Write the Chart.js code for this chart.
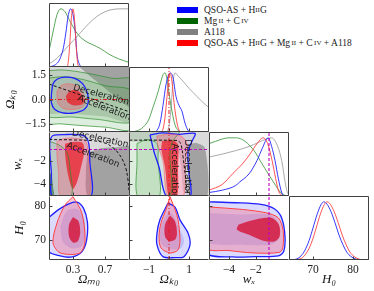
<!DOCTYPE html>
<html lang="en">
<head>
  <meta charset="UTF-8" />
  <title>Triangle plot</title>
  <script src="https://cdn.jsdelivr.net/npm/chart.js"></script>
  <style>
    body { margin: 0; background: #fff; }
    #wrap { position: relative; width: 374px; height: 291px; overflow: hidden; }
    #wrap canvas { position: absolute; }
    #legend { position: absolute; left: 177px; top: 4px; font-family: 'Liberation Serif', serif; font-size: 9.5px; color: #222; }
    #legend .row { height: 11px; display: flex; align-items: center; white-space: nowrap; }
    #legend .sw { width: 21px; height: 6px; margin-right: 6px; flex: none; }
    #legend .sc { font-size: 7px; }
  </style>
</head>
<body>
<div id="wrap">
  <div id="legend">
    <div class="row"><span class="sw" style="background:#0000ff"></span>QSO-AS + H<span class="sc">II</span>G</div>
    <div class="row"><span class="sw" style="background:#006400"></span>Mg<span class="sc">&thinsp;II</span>&nbsp;+ C<span class="sc">&thinsp;IV</span></div>
    <div class="row"><span class="sw" style="background:#808080"></span>A118</div>
    <div class="row"><span class="sw" style="background:#ff0000"></span>QSO-AS + H<span class="sc">II</span>G + Mg<span class="sc">&thinsp;II</span>&nbsp;+ C<span class="sc">&thinsp;IV</span>&nbsp;+ A118</div>
  </div>
</div>
<script>
// tick values and labels
const omTicks = [0.3, 0.7], omLabels = ['0.3', '0.7'];
const okTicks = [-1, 0, 1], okLabels = ['−1', '', '1'];
const okYTicks = [-1.5, 0, 1.5], okYLabels = ['−1.5', '0.0', '1.5'];
const wTicks = [-4, -2], wLabels = ['−4', '−2'];
const h0Ticks = [70, 80], h0Labels = ['70', '80'];

// 1D marginals [value, relative density]
const omGreen = [[0,0.27],[0.05,0.6],[0.1,0.9],[0.15,1.0],[0.2,0.95],[0.25,0.82],[0.35,0.58],[0.45,0.45],[0.55,0.38],[0.64,0.32],[0.75,0.22],[0.87,0.14],[1.0,0.08]];
const omGray = [[0,0.05],[0.1,0.15],[0.2,0.3],[0.3,0.45],[0.4,0.6],[0.5,0.75],[0.6,0.87],[0.7,0.95],[0.8,0.99],[0.9,1.0],[1.0,1.0]];
const omBlue = [[0,0],[0.08,0.04],[0.13,0.12],[0.18,0.33],[0.21,0.58],[0.24,0.88],[0.27,1.0],[0.3,0.9],[0.33,0.58],[0.35,0.22],[0.38,0.05],[0.42,0],[1,0]];
const omRed = [[0,0],[0.22,0],[0.24,0.08],[0.26,0.4],[0.28,0.85],[0.3,1.0],[0.32,0.8],[0.34,0.35],[0.36,0.05],[0.38,0],[1,0]];

const okGreen = [[-2,0],[-1.6,0.02],[-1.3,0.08],[-1.0,0.22],[-0.8,0.42],[-0.6,0.62],[-0.45,0.8],[-0.3,0.97],[-0.2,1.0],[-0.1,0.9],[0.0,0.65],[0.15,0.35],[0.3,0.12],[0.45,0.03],[0.6,0],[2,0]];
const okGray = [[-2,0],[-0.2,0],[0.0,0.1],[0.1,0.4],[0.2,0.85],[0.3,1.0],[0.45,0.95],[0.7,0.86],[1.0,0.74],[1.4,0.6],[1.7,0.5],[2,0.41]];
const okBlue = [[-2,0],[-0.8,0],[-0.6,0.03],[-0.45,0.15],[-0.3,0.45],[-0.15,0.8],[0.05,1.0],[0.2,0.92],[0.35,0.6],[0.5,0.45],[0.65,0.35],[0.8,0.15],[0.95,0.03],[1.1,0],[2,0]];
const okRed = [[-2,0],[-0.4,0],[-0.3,0.05],[-0.2,0.25],[-0.1,0.6],[0.0,0.95],[0.05,1.0],[0.15,0.85],[0.25,0.5],[0.35,0.25],[0.45,0.08],[0.55,0.01],[0.7,0],[2,0]];

const wGreen = [[-5.5,0.9],[-5,0.94],[-4.5,0.98],[-4,1.0],[-3.5,1.0],[-3,0.97],[-2.5,0.88],[-2,0.74],[-1.67,0.61],[-1.3,0.47],[-0.92,0.33],[-0.5,0.18],[-0.17,0.07],[0.1,0.02],[0.5,0]];
const wGray = [[-5.5,0.67],[-4.5,0.72],[-3.5,0.78],[-2.5,0.85],[-1.8,0.92],[-1.2,0.98],[-0.8,1.0],[-0.5,0.93],[-0.2,0.75],[0.0,0.55],[0.2,0.25],[0.35,0.08],[0.5,0.01]];
const wBlue = [[-5.5,0.06],[-4.5,0.1],[-3.5,0.18],[-3.2,0.24],[-2.5,0.38],[-1.9,0.61],[-1.5,0.82],[-1.07,1.0],[-0.8,0.85],[-0.55,0.61],[-0.3,0.3],[-0.03,0.05],[0.2,0],[0.5,0]];
const wRed = [[-5.5,0.1],[-4.5,0.2],[-3.7,0.39],[-3,0.55],[-2.4,0.73],[-1.9,0.9],[-1.45,1.0],[-1.1,0.9],[-0.77,0.61],[-0.5,0.3],[-0.3,0.1],[-0.1,0.02],[0.2,0],[0.5,0]];

const h0Blue = [[64,0],[66,0.02],[67,0.07],[68,0.17],[69,0.33],[70,0.55],[71,0.78],[72,0.95],[72.7,1.0],[73.5,0.96],[74.5,0.83],[75.5,0.64],[76.5,0.43],[77.5,0.26],[78.5,0.13],[79.5,0.06],[80.5,0.02],[82,0],[84,0]];
const h0Red = [[64,0],[66.8,0.02],[67.8,0.07],[68.8,0.17],[69.8,0.33],[70.8,0.55],[71.8,0.78],[72.8,0.95],[73.5,1.0],[74.3,0.96],[75.3,0.83],[76.3,0.64],[77.3,0.43],[78.3,0.26],[79.3,0.13],[80.3,0.06],[81.3,0.02],[82.8,0],[84,0]];

// 2D contours (1 = 68%, 2 = 95%)
// Omega_m0 vs Omega_k0
const A_gray2 = [[-0.05,2.1],[1.05,2.1],[1.05,-1.35],[0.7,-1.05],[0.4,-0.92],[0.15,-0.85],[-0.05,-0.8]];
const A_gray1 = [[0.36,2.1],[1.05,2.1],[1.05,-0.5],[0.8,0.3],[0.6,1.1],[0.45,1.7]];
const A_green2 = [[-0.05,1.75],[0.15,1.82],[0.35,1.72],[0.6,1.5],[0.8,1.3],[1.05,1.2],[1.05,-1.8],[0.7,-1.7],[0.4,-1.6],[0.15,-1.5],[-0.05,-1.4]];
const A_green1 = [[-0.05,1.3],[0.2,1.4],[0.45,1.2],[0.7,0.85],[1.05,0.5],[1.05,-1.35],[0.6,-1.22],[0.3,-1.08],[-0.05,-0.95]];
const A_blue2 = [[0.03,0.3],[0.05,0.95],[0.1,1.25],[0.2,1.38],[0.32,1.3],[0.42,0.98],[0.48,0.4],[0.49,-0.2],[0.44,-0.62],[0.32,-0.82],[0.17,-0.82],[0.07,-0.6],[0.03,-0.2]];
const A_red2 = [[0.1,0.5],[0.15,0.85],[0.25,0.97],[0.35,0.82],[0.42,0.45],[0.45,-0.05],[0.42,-0.45],[0.32,-0.6],[0.18,-0.55],[0.11,-0.2]];
const A_red1 = [[0.21,0.2],[0.26,0.52],[0.34,0.58],[0.41,0.3],[0.44,-0.1],[0.4,-0.33],[0.3,-0.35],[0.23,-0.15]];
const A_qzero = [[0,0.95],[1,-0.75]];

// Omega_m0 vs w_X
const B_gray2 = [[-0.05,0.6],[1.05,0.6],[1.05,-5.1],[-0.05,-5.1]];
const B_gray1 = [[0.48,-1.3],[0.65,-0.9],[0.85,-0.8],[1.05,-0.8],[1.05,-5.1],[0.5,-5.1],[0.46,-3.0]];
const B_green2 = [[-0.05,-0.2],[0.12,-0.6],[0.22,-1.2],[0.26,-2.5],[0.27,-5.1],[-0.05,-5.1]];
const B_green1 = [[-0.05,-2.5],[0.03,-3.2],[0.05,-4.2],[0.06,-5.1],[-0.05,-5.1]];
const B_blue2 = [[0.01,-0.2],[0.05,0.2],[0.2,0.28],[0.4,0.25],[0.47,0.0],[0.5,-0.6],[0.51,-2],[0.515,-5.1],[0.05,-5.1],[0.03,-3],[0.01,-1.2]];
const B_red2 = [[0.1,-0.3],[0.2,-0.05],[0.35,-0.05],[0.46,-0.3],[0.49,-1.5],[0.49,-5.1],[0.15,-5.1],[0.12,-3],[0.1,-1.5]];
const B_red1 = [[0.2,-0.5],[0.3,-0.35],[0.42,-0.45],[0.44,-1.2],[0.4,-2.5],[0.35,-3.8],[0.3,-4.4],[0.26,-3.8],[0.22,-2.5],[0.2,-1.2]];
const B_qzero = [[0,-0.15],[0.3,-0.18],[0.55,-0.25],[0.7,-0.45],[0.8,-0.85],[0.87,-1.35],[0.92,-1.9],[0.96,-2.6],[0.985,-3.5],[1.0,-4.5]];

// Omega_k0 vs w_X
const C_gray2 = [[-2.1,0.6],[2.1,0.6],[2.1,-5.1],[0.85,-5.1],[0.6,-2.5],[0.4,-0.9],[0.0,-0.45],[-1.0,-0.3],[-2.1,-0.25]];
const C_gray1 = [[0.95,-0.6],[1.35,-0.45],[1.8,-0.9],[1.9,-5.1],[1.05,-5.1],[1.0,-2.2]];
const C_green2 = [[-2.1,0.6],[0.5,0.6],[0.15,-0.4],[0.05,-1.5],[0.0,-5.1],[-2.1,-5.1]];
const C_green1 = [[-1.6,-0.5],[-1.1,-0.15],[-0.6,-0.5],[-0.55,-2],[-0.5,-5.1],[-1.55,-5.1],[-1.6,-2]];
const C_blue2 = [[-0.95,0.25],[-0.3,0.42],[0.5,0.3],[1.3,0.38],[1.15,-0.3],[0.95,-1.2],[1.0,-3],[1.05,-5.1],[-0.1,-5.1],[-0.5,-2.5],[-0.75,-1.2]];
const C_red2 = [[-0.6,0.15],[0.0,0.32],[0.6,0.15],[0.9,-0.5],[0.82,-2],[0.7,-5.1],[-0.05,-5.1],[-0.3,-2],[-0.55,-0.7]];
const C_red1 = [[-0.35,-0.3],[0.2,-0.2],[0.45,-0.6],[0.45,-2.5],[0.4,-5.1],[0.0,-5.1],[-0.2,-2.5],[-0.38,-1]];
const C_qzero = [[-2,-0.2],[0.3,-0.22],[0.5,-0.3],[0.62,-0.7],[0.7,-1.6],[0.8,-3],[0.88,-4.2],[0.95,-5.0]];

// Omega_m0 vs H0
const D_blue2 = [[-0.03,76],[0.11,78.8],[0.24,80.6],[0.35,81.2],[0.43,79.4],[0.48,75.3],[0.47,69.9],[0.41,66.4],[0.29,64.9],[0.14,65.2],[-0.03,67]];
const D_blue1 = [[0.14,74],[0.22,78.5],[0.35,79.2],[0.44,76.5],[0.45,71],[0.4,68],[0.28,67.5],[0.17,69.5]];
const D_red2 = [[0.3,82.8],[0.41,78],[0.45,69.9],[0.39,66.1],[0.14,66.1],[0.05,69.1],[0.1,75],[0.2,80.3]];
const D_red1 = [[0.3,76.8],[0.37,75.5],[0.39,72],[0.36,69.6],[0.3,69.2],[0.25,71],[0.25,74.5]];

// Omega_k0 vs H0
const E_blue2 = [[-0.05,80.9],[-0.45,76],[-0.6,72],[-0.6,68.5],[-0.3,65],[0.3,64.7],[0.75,65],[1.05,68.5],[0.95,72],[0.55,75.9],[0.3,79.7]];
const E_blue1 = [[-0.05,78],[-0.4,74],[-0.4,69],[0.1,67.2],[0.6,67.5],[0.75,70],[0.45,74],[0.2,77.5]];
const E_red2 = [[0.05,82.8],[0.3,79],[0.45,76],[0.55,70],[0.45,67],[0.05,66.1],[-0.4,67.6],[-0.5,71],[-0.4,75],[-0.15,79]];
const E_red1 = [[0.05,77.2],[0.3,75.5],[0.4,72],[0.3,70],[0.0,69.6],[-0.2,71],[-0.2,74.5]];

// w_X vs H0
const F_blue2 = [[-5.7,81.3],[-3.5,81],[-1.6,80.5],[-0.6,79.2],[-0.05,76.5],[0.2,71],[0.1,66.5],[-0.3,65.2],[-2,65],[-3.7,64.9],[-5.7,66.2]];
const F_blue1 = [[-5.7,78],[-3,77.5],[-1,77.5],[-0.3,75],[-0.3,70],[-1,68.5],[-3,68.5],[-5.7,69.5]];
const F_red2 = [[-5.7,79.8],[-3,79],[-1.2,78],[-0.3,76.5],[0.05,73],[0.05,68],[-0.2,66.3],[-2.2,66.1],[-4,66.8],[-5.7,67.6]];
const F_red1 = [[-3.3,74.5],[-2,76],[-0.8,76.5],[-0.25,74.5],[-0.2,71],[-0.6,69.5],[-1.5,69.8],[-2.5,71.5],[-3.4,73]];

// reference values
const okFlat = 0;
const wLambda = -1;

// ---- layout and styles ----
const colLeft = [49, 129, 209, 289];
const colW = 80;
const rowTop = [3, 67, 132, 196];
const rowH = [64, 65, 64, 64];
const FULL_H = 291;

const AX = {
  om: { min: 0, max: 1, ticks: omTicks, labels: omLabels, title: 'Ωₘ₀' },
  ok: { min: -2, max: 2, ticks: okTicks, labels: okLabels, yticks: okYTicks, ylabels: okYLabels, title: 'Ωₖ₀', tpad: 3 },
  w: { min: -5.5, max: 0.5, ymin: -5, ymax: 0.5, ticks: wTicks, labels: wLabels, title: 'wₓ', tpad: 10 },
  h0: { min: 64, max: 84, ymin: 64, ymax: 83, ticks: h0Ticks, labels: h0Labels, title: 'H₀', tpad: 12 }
};

const COL = {
  gray2: 'rgba(150,150,150,0.35)', gray1: 'rgba(95,95,95,0.45)',
  green2: 'rgba(70,160,70,0.18)', green1: 'rgba(20,110,20,0.35)',
  blue2: 'rgba(90,90,255,0.22)', blue1: 'rgba(80,80,220,0.2)', blueFaint: 'rgba(150,150,255,0.12)',
  red2: 'rgba(255,80,100,0.3)', red1: 'rgba(215,0,35,0.7)', redBright: 'rgba(232,30,40,0.75)',
  blueLine: '#2020ff', redLine: '#ff4040', redThin: 'rgba(255,90,90,0.8)', greenLine: 'rgba(40,140,40,0.85)', grayLine: '#a0a0a0'
};

const toXY = pts => pts.map(p => ({ x: p[0], y: p[1] }));
const none = 'rgba(0,0,0,0)';

function area(pts, bg) {
  return { data: toXY(pts.concat([pts[0]])), fill: 'shape', backgroundColor: bg, borderColor: none, borderWidth: 1, pointRadius: 0, tension: 0.3 };
}
function outline(pts, color, lw) {
  return { data: toXY(pts.concat([pts[0]])), fill: false, borderColor: color, borderWidth: lw, pointRadius: 0, tension: 0.3 };
}
function curve(pts, color, lw, dash, smooth) {
  return { data: toXY(pts), fill: false, borderColor: color, borderWidth: lw, borderDash: dash || [], pointRadius: 0,
    tension: smooth === false ? 0 : 0.4, cubicInterpolationMode: smooth === 'mono' ? 'monotone' : 'default' };
}
const hline = (v, a, b) => [[a, v], [b, v]];
const vline = (v, a, b) => [[v, a], [v, b]];
const DASHDOT = [4, 2, 1, 2];

const framePlugin = {
  id: 'frame',
  afterDatasetsDraw(chart, args, opts) {
    const ctx = chart.ctx, a = chart.chartArea, sx = chart.scales.x, sy = chart.scales.y;
    ctx.save();
    ctx.beginPath();
    ctx.rect(a.left, a.top, a.right - a.left, a.bottom - a.top);
    ctx.clip();
    ctx.fillStyle = '#1a1a1a';
    ctx.font = '9px "DejaVu Sans", sans-serif';
    ctx.textAlign = 'center';
    ctx.textBaseline = 'middle';
    (opts.notes || []).forEach(n => {
      ctx.save();
      ctx.translate(sx.getPixelForValue(n.x), sy.getPixelForValue(n.y));
      ctx.rotate(n.rot * Math.PI / 180);
      ctx.fillText(n.text, 0, 0);
      ctx.restore();
    });
    ctx.restore();

    ctx.save();
    ctx.strokeStyle = '#404040';
    ctx.lineWidth = 1;
    ctx.beginPath();
    const L = a.left + 0.5, R = a.right - 0.5, T = a.top + 0.5, B = a.bottom - 0.5;
    ctx.moveTo(L, T); ctx.lineTo(L, B); ctx.lineTo(R, B);
    if (opts.diag) { ctx.lineTo(R, T); ctx.lineTo(L, T); }
    (opts.xt || []).forEach(v => { const x = Math.round(sx.getPixelForValue(v)) + 0.5; ctx.moveTo(x, B); ctx.lineTo(x, B - 3); });
    (opts.yt || []).forEach(v => { const y = Math.round(sy.getPixelForValue(v)) + 0.5; ctx.moveTo(L, y); ctx.lineTo(L + 3, y); });
    ctx.stroke();
    ctx.restore();
  }
};

function scaleOpts(ax, isY, show, size) {
  const t = isY ? (ax.yticks || ax.ticks) : ax.ticks;
  const l = isY ? (ax.ylabels || ax.labels) : ax.labels;
  const o = {
    type: 'linear',
    min: isY && ax.ymin !== undefined ? ax.ymin : ax.min,
    max: isY && ax.ymax !== undefined ? ax.ymax : ax.max,
    display: show
  };
  if (show) {
    o.afterBuildTicks = s => { s.ticks = t.map(v => ({ value: v })); };
    o.afterFit = s => {
      if (isY) s.width = size; else s.height = size;
      s.paddingTop = s.paddingBottom = s.paddingLeft = s.paddingRight = 0;
    };
    o.ticks = { autoSkip: false, maxRotation: 0, padding: 3, color: '#222',
      font: { family: "'Liberation Serif', serif", size: 11.5 }, callback: (v, i) => l[i] };
    o.grid = { display: false, drawTicks: false };
    o.border = { display: false };
    o.title = { display: true, text: ax.title, color: '#111',
      font: { family: "'Liberation Serif', serif", size: 13, style: 'italic' },
      padding: isY ? { top: ax.tpad, bottom: 0 } : { top: 0, bottom: 4 } };
  }
  return o;
}

const wrap = document.getElementById('wrap');

function panel(row, col, xk, yk, datasets, notes) {
  const showY = col === 0 && yk !== null;
  const showX = row === 3;
  const left = colLeft[col], top = rowTop[row], h = rowH[row];
  const cw = showY ? left + colW : colW;
  const ch = showX ? FULL_H - top : h;
  const cv = document.createElement('canvas');
  cv.width = cw; cv.height = ch;
  cv.style.left = (showY ? 0 : left) + 'px';
  cv.style.top = top + 'px';
  cv.style.width = cw + 'px';
  cv.style.height = ch + 'px';
  wrap.appendChild(cv);
  datasets.forEach((d, i) => { d.order = 1000 - i; });
  const xs = scaleOpts(AX[xk], false, showX, FULL_H - top - h);
  const ys = yk ? scaleOpts(AX[yk], true, showY, left) : { type: 'linear', min: 0, max: 1.1, display: false };
  new Chart(cv, {
    type: 'line',
    data: { datasets },
    options: {
      responsive: false, animation: false, events: [], devicePixelRatio: 1,
      layout: { padding: 0 },
      plugins: {
        legend: { display: false }, tooltip: { enabled: false },
        frame: { notes: notes || [], diag: yk === null, xt: AX[xk].ticks, yt: yk ? (AX[yk].yticks || AX[yk].ticks) : [] }
      },
      scales: { x: xs, y: ys }
    },
    plugins: [framePlugin]
  });
}

// diagonal marginals
panel(0, 0, 'om', null, [
  curve(omGray, COL.grayLine, 0.9, null, 'mono'),
  curve(omGreen, COL.greenLine, 0.9, null, 'mono'),
  curve(omBlue, COL.blueLine, 0.9, null, 'mono'),
  curve(omRed, COL.redLine, 0.9, null, 'mono')
]);
panel(1, 1, 'ok', null, [
  curve(okGray, COL.grayLine, 0.9, null, 'mono'),
  curve(okGreen, COL.greenLine, 0.9, null, 'mono'),
  curve(okBlue, COL.blueLine, 0.9, null, 'mono'),
  curve(okRed, COL.redLine, 0.9, null, 'mono'),
  curve(vline(okFlat, 0, 1.1), '#e02020', 1, DASHDOT, false)
]);
panel(2, 2, 'w', null, [
  curve(wGray, COL.grayLine, 0.9, null, 'mono'),
  curve(wGreen, COL.greenLine, 0.9, null, 'mono'),
  curve(wBlue, COL.blueLine, 0.9, null, 'mono'),
  curve(wRed, COL.redLine, 0.9, null, 'mono'),
  curve(vline(wLambda, 0, 1.1), '#c000c0', 1.1, [3, 2], false)
]);
panel(3, 3, 'h0', null, [
  curve(h0Blue, COL.blueLine, 0.9, null, 'mono'),
  curve(h0Red, COL.redLine, 0.9, null, 'mono')
]);

// Omega_k0 vs Omega_m0
panel(1, 0, 'om', 'ok', [
  area(A_gray2, COL.gray2), area(A_gray1, COL.gray1),
  area(A_green2, COL.green2), area(A_green1, COL.green2),
  area(A_blue2, COL.blueFaint),
  area(A_red2, COL.red2), area(A_red1, COL.redBright),
  outline(A_green2, COL.greenLine, 0.8), outline(A_green1, COL.greenLine, 0.8),
  outline(A_blue2, COL.blueLine, 1.3), outline(A_red2, COL.redThin, 0.7),
  curve(hline(okFlat, 0, 1), '#e02020', 1, DASHDOT, false),
  curve(A_qzero, '#111', 1, [3, 2], false)
], [
  { text: 'Deceleration', x: 0.65, y: 0.28, rot: 15 },
  { text: 'Acceleration', x: 0.69, y: -0.52, rot: 21 }
]);

// w_X vs Omega_m0
panel(2, 0, 'om', 'w', [
  area(B_gray2, COL.gray2), area(B_gray1, COL.gray1),
  area(B_green2, COL.green2), area(B_green1, 'rgba(20,100,20,0.6)'),
  area(B_blue2, COL.blueFaint),
  area(B_red2, COL.red2), area(B_red1, COL.redBright),
  outline(B_green2, COL.greenLine, 0.8),
  outline(B_blue2, COL.blueLine, 1.3), outline(B_red2, COL.redThin, 0.7),
  curve(hline(wLambda, 0, 1), '#c000c0', 1.1, [3, 2], false),
  curve(B_qzero, '#111', 1, [3, 2])
], [
  { text: 'Deceleration', x: 0.64, y: -0.1, rot: 12 },
  { text: 'Acceleration', x: 0.55, y: -1.48, rot: 21 }
]);

// w_X vs Omega_k0
panel(2, 1, 'ok', 'w', [
  area(C_gray2, COL.gray2), area(C_gray1, COL.gray1),
  area(C_green2, COL.green2), area(C_green1, COL.green2),
  area(C_blue2, COL.blueFaint),
  area(C_red2, COL.red2), area(C_red1, COL.redBright),
  outline(C_green2, COL.greenLine, 0.8), outline(C_green1, COL.greenLine, 0.8),
  outline(C_blue2, COL.blueLine, 1.3), outline(C_red2, COL.redThin, 0.7),
  curve(vline(okFlat, -5, 0.5), '#e02020', 1, DASHDOT, false),
  curve(hline(wLambda, -2, 2), '#c000c0', 1.1, [3, 2], false),
  curve(C_qzero, '#111', 1, [3, 2])
], [
  { text: 'Acceleration', x: 0.25, y: -2.9, rot: 90 },
  { text: 'Deceleration', x: 0.9, y: -2.6, rot: 90 }
]);

// H0 vs Omega_m0
panel(3, 0, 'om', 'h0', [
  area(D_blue2, COL.blue2), area(D_blue1, COL.blue1),
  area(D_red2, COL.red2), area(D_red1, COL.red1),
  outline(D_blue2, COL.blueLine, 1.3), outline(D_red2, COL.redLine, 1)
]);

// H0 vs Omega_k0
panel(3, 1, 'ok', 'h0', [
  area(E_blue2, COL.blue2), area(E_blue1, COL.blue1),
  area(E_red2, COL.red2), area(E_red1, COL.red1),
  outline(E_blue2, COL.blueLine, 1.3), outline(E_red2, COL.redLine, 1),
  curve(vline(okFlat, 64, 83), '#e02020', 1, DASHDOT, false)
]);

// H0 vs w_X
panel(3, 2, 'w', 'h0', [
  area(F_blue2, COL.blue2), area(F_blue1, COL.blue1),
  area(F_red2, COL.red2), area(F_red1, COL.red1),
  outline(F_blue2, COL.blueLine, 1.3), outline(F_red2, COL.redLine, 1),
  curve(vline(wLambda, 64, 83), '#c000c0', 1.1, [3, 2], false)
]);
</script>
</body>
</html>
